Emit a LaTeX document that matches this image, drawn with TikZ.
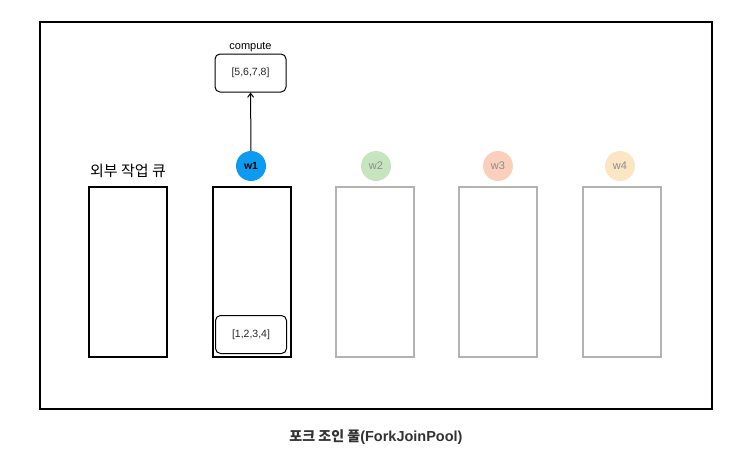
\documentclass[tikz,border=0pt]{standalone}
\usepackage{fontspec}
\setmainfont{Liberation Sans}
\newfontfamily\kr{Noto Sans CJK KR}
\usetikzlibrary{arrows.meta}
\definecolor{wblue}{HTML}{0D9BF2}
\definecolor{wgreen}{HTML}{C6E5BF}
\definecolor{wred}{HTML}{FAD0BD}
\definecolor{wyellow}{HTML}{FCE5C2}
\definecolor{qgray}{HTML}{B3B3B3}
\definecolor{tgray}{HTML}{8C8C8C}
\definecolor{titlegray}{HTML}{333333}
\tikzset{
  px/.style={x=1pt,y=-1pt},
  queue/.style={draw=black,line width=2pt,minimum width=78pt,minimum height=170pt,inner sep=0pt},
  gqueue/.style={queue,draw=qgray},
  worker/.style={circle,minimum size=30pt,inner sep=0pt,font=\fontsize{11}{12}\selectfont},
  task/.style={draw=black,line width=1pt,rounded corners=5pt,minimum width=71pt,minimum height=38pt,inner sep=0pt,font=\fontsize{10.5}{12}\selectfont,text=black!85},
}
\begin{document}
\begin{tikzpicture}[px]
\useasboundingbox (0,0) rectangle (751,453);
\node[draw=black,line width=2.2pt,minimum width=672pt,minimum height=387pt,inner sep=0pt] (frame) at (376,215.5) {};
\node[queue] (ext) at (127.5,271.5) {};
\node[queue] (q1) at (251.5,271.5) {};
\node[gqueue] (q2) at (374.5,271.5) {};
\node[gqueue] (q3) at (497.5,271.5) {};
\node[gqueue] (q4) at (621.5,271.5) {};
\node[font=\kr\fontsize{15}{17}\selectfont] (extlabel) at (128,171) {외부 작업 큐};
\node[worker,fill=wblue,text=black,font=\bfseries\fontsize{10.5}{12}\selectfont] (w1) at (251,166) {w1};
\node[worker,fill=wgreen,text=tgray] (w2) at (376,166) {w2};
\node[worker,fill=wred,text=tgray] (w3) at (498,166) {w3};
\node[worker,fill=wyellow,text=tgray] (w4) at (620,166) {w4};
\node[task] (t1) at (251,334.5) {[1,2,3,4]};
\node[task] (t2) at (250.5,73) {[5,6,7,8]};
\node[font=\fontsize{11}{12}\selectfont,anchor=south,inner sep=1.5pt] (computelabel) at (t2.north) {compute};
\draw[line width=1pt,-{Straight Barb[length=4pt,width=6pt]}] (w1) -- (t2);
\node[font=\bfseries\fontsize{14.5}{16}\selectfont,text=titlegray] (title) at (376,437) {{\kr\fontsize{14}{16}\selectfont 포크 조인 풀}(ForkJoinPool)};
\end{tikzpicture}
\end{document}
